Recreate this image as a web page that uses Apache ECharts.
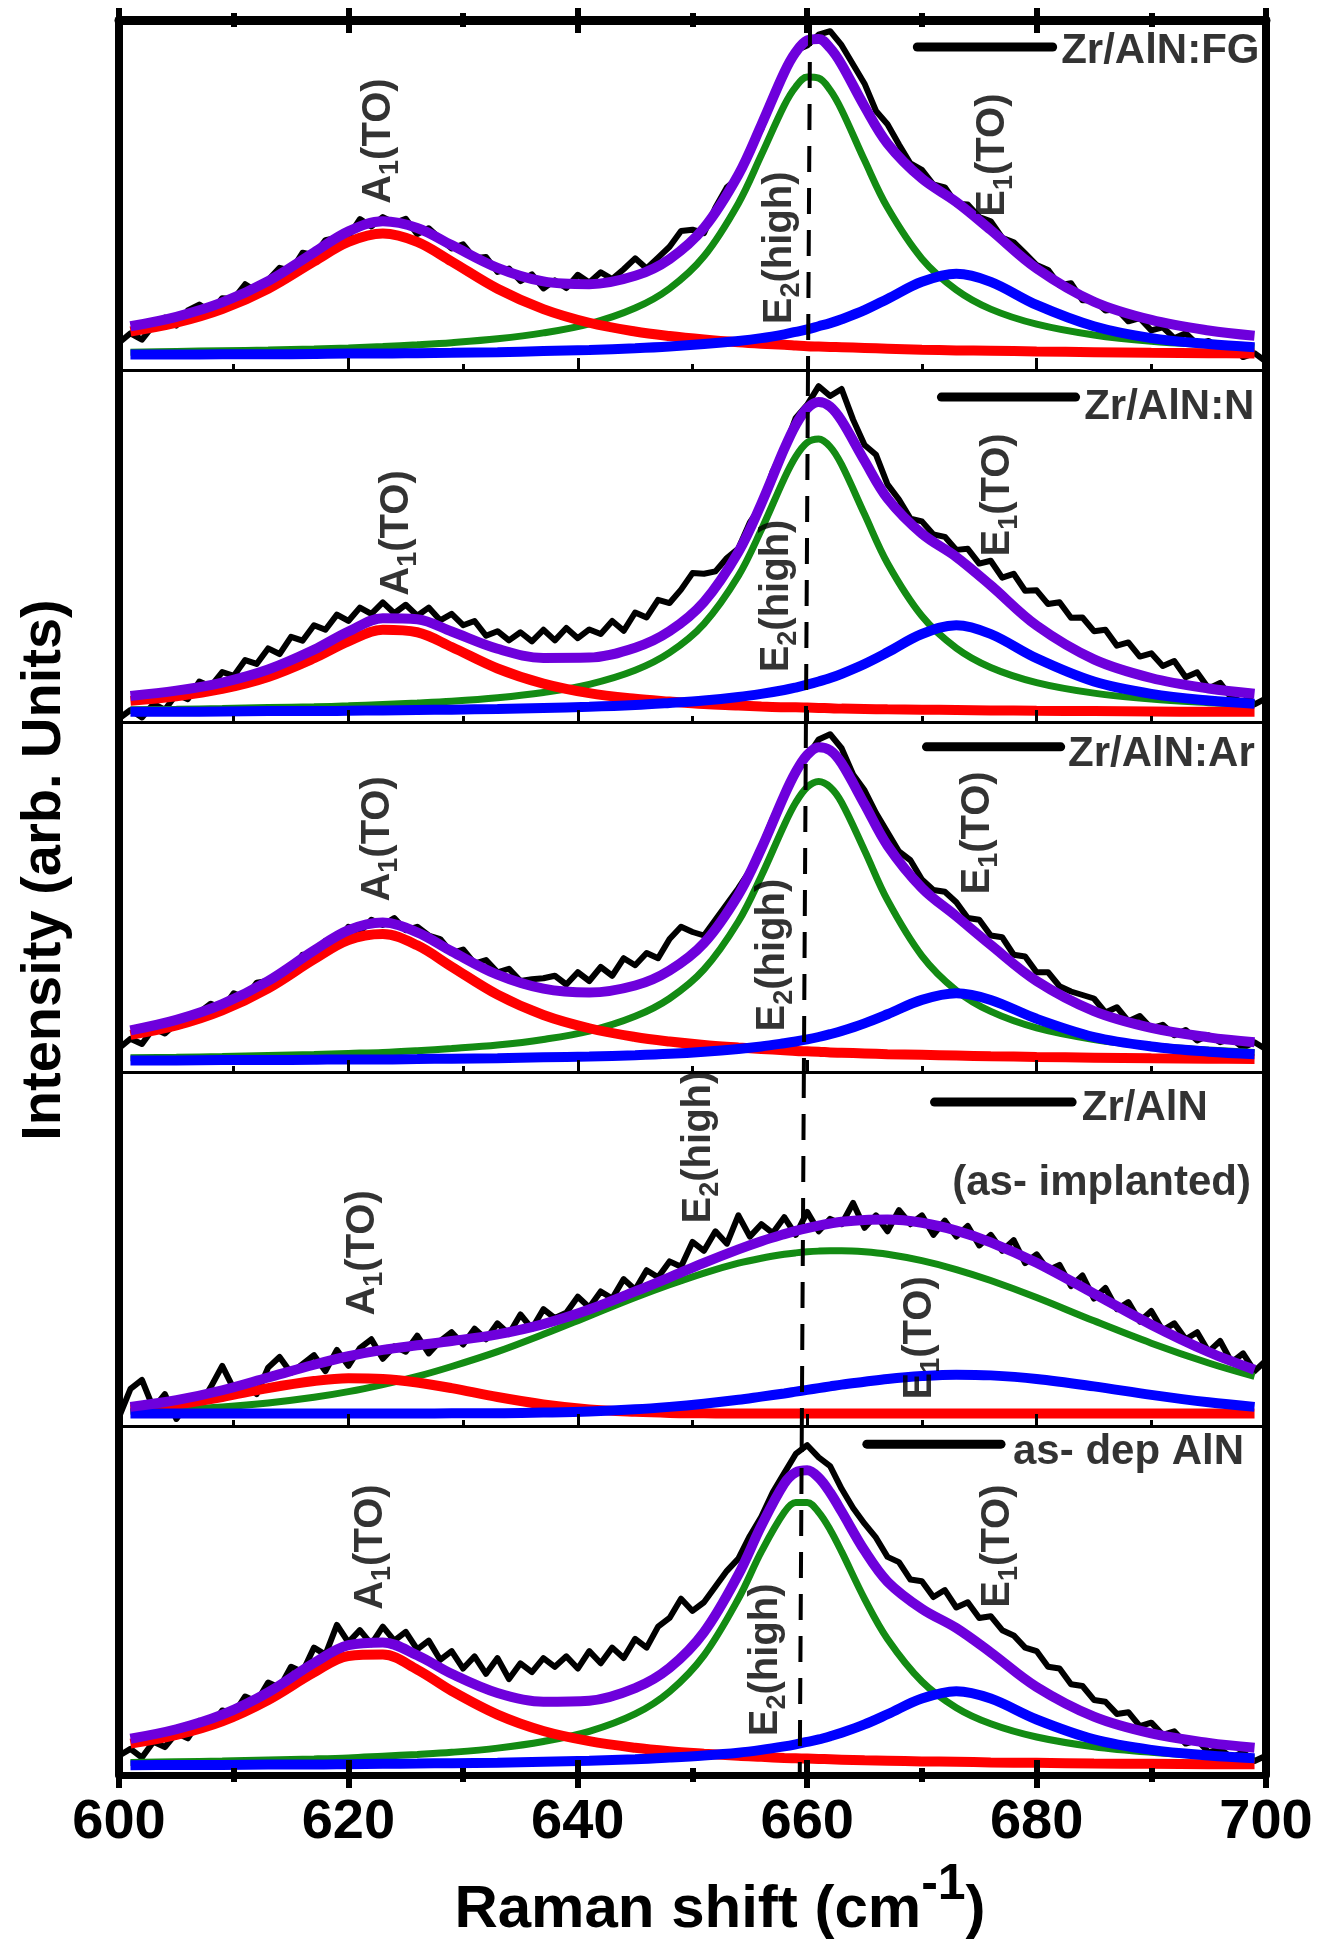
<!DOCTYPE html>
<html>
<head>
<meta charset="utf-8">
<title>Raman spectra - Zr/AlN</title>
<script src="https://cdn.jsdelivr.net/npm/echarts@6/dist/echarts.min.js"></script>
<style>
html, body { margin: 0; padding: 0; background: #fff; }
#main { width: 1320px; height: 1947px; }
</style>
</head>
<body>
<div id="main"></div>
<script>
//------------ data (intensity in % of panel height) ------------//
// sampling of the fitted curves, cm-1
var xFit = [601, 605, 609, 613, 617, 620, 623, 626, 629, 633, 637, 641, 645, 648, 651, 654, 656, 658, 659, 660,
	661, 662, 663, 665, 667, 670, 673, 676, 680, 685, 690, 695, 699];
// sampling of the measured spectra, cm-1
var xRaw = [600, 601, 602, 603, 604, 605, 606, 607, 608, 609, 610, 611, 612, 613, 614, 615, 616, 617, 618, 619,
	620, 621, 622, 623, 624, 625, 626, 627, 628, 629, 630, 631, 632, 633, 634, 635, 636, 637, 638, 639,
	640, 641, 642, 643, 644, 645, 646, 647, 648, 649, 650, 651, 652, 653, 654, 655, 656, 657, 658, 659,
	660, 661, 662, 663, 664, 665, 666, 667, 668, 669, 670, 671, 672, 673, 674, 675, 676, 677, 678, 679,
	680, 681, 682, 683, 684, 685, 686, 687, 688, 689, 690, 691, 692, 693, 694, 695, 696, 697, 698, 699, 700];
var xTicks = [600, 620, 640, 660, 680, 700];

var sampleNames = ['Zr/AlN:FG', 'Zr/AlN:N', 'Zr/AlN:Ar', 'Zr/AlN', 'as- dep AlN'];

// Zr/AlN:FG
var raw1 = [7.8, 10.5, 8.7, 12.8, 15.0, 12.7, 17.0, 18.7, 16.5, 20.5, 20.3, 24.5, 22.4, 25.7, 29.2, 28.3, 33.5, 32.8, 37.1, 37.8,
	38.1, 43.1, 41.0, 43.7, 42.0, 43.2, 38.8, 40.5, 37.5, 34.7, 35.9, 31.9, 32.3, 28.0, 29.0, 25.4, 27.3, 23.3, 25.6, 23.4,
	27.2, 25.0, 27.9, 26.0, 28.8, 31.9, 29.0, 32.1, 35.2, 39.7, 40.1, 39.1, 46.4, 52.2, 55.0, 63.4, 68.8, 78.5, 84.5, 91.3,
	92.7, 95.8, 96.8, 92.8, 87.3, 81.8, 74.0, 70.2, 64.4, 59.0, 57.2, 53.0, 52.2, 47.5, 47.3, 43.7, 42.5, 37.8, 36.5, 33.3,
	30.0, 28.6, 24.2, 24.8, 19.9, 20.0, 17.0, 17.4, 13.9, 14.8, 11.3, 12.2, 9.1, 10.5, 7.4, 8.3, 5.9, 7.0, 3.7, 4.8, 2.4];
var a1FG = [11.0, 13.5, 17.4, 23.2, 31.0, 36.6, 39.0, 36.6, 31.0, 23.2, 17.4, 13.5, 11.0, 9.7, 8.7, 7.9, 7.5, 7.2, 7.0, 6.8,
	6.7, 6.6, 6.5, 6.3, 6.1, 5.8, 5.6, 5.5, 5.3, 5.1, 4.9, 4.8, 4.7];
var e2FG = [5.1, 5.3, 5.5, 5.7, 6.0, 6.3, 6.7, 7.2, 7.8, 8.9, 10.6, 13.2, 17.7, 23.3, 32.5, 47.6, 61.4, 75.6, 80.9, 83.7,
	83.4, 80.0, 74.3, 59.9, 46.4, 31.8, 22.9, 17.4, 13.1, 10.0, 8.2, 7.2, 6.6];
var e1FG = [4.4, 4.4, 4.5, 4.5, 4.6, 4.7, 4.7, 4.8, 4.9, 5.1, 5.4, 5.7, 6.2, 6.7, 7.4, 8.3, 9.1, 10.2, 10.9, 11.6,
	12.5, 13.4, 14.5, 17.1, 20.3, 25.2, 27.5, 25.2, 18.6, 12.5, 9.1, 7.4, 6.5];
var sumFG = [12.5, 15.2, 19.3, 25.4, 33.6, 39.6, 42.5, 40.6, 35.7, 29.2, 25.3, 24.5, 26.9, 31.7, 40.6, 55.8, 70.0, 85.0, 90.8, 94.2,
	94.6, 92.0, 87.3, 75.3, 64.7, 54.7, 48.0, 40.0, 29.0, 19.5, 14.3, 11.3, 9.8];

// Zr/AlN:N
var raw2 = [1.0, 3.4, 1.3, 5.1, 3.5, 7.9, 6.5, 11.5, 10.1, 14.2, 13.1, 17.6, 16.5, 20.9, 19.3, 24.2, 23.1, 27.5, 26.2, 30.5,
	28.7, 32.5, 30.7, 34.0, 30.9, 33.3, 30.2, 32.5, 28.9, 30.7, 27.5, 28.7, 24.5, 25.8, 23.2, 25.5, 22.9, 26.2, 23.2, 26.7,
	23.8, 26.3, 25.0, 28.7, 25.9, 31.1, 29.7, 34.7, 33.8, 37.6, 42.3, 42.1, 42.8, 46.6, 49.3, 56.7, 61.5, 71.3, 77.6, 86.4,
	90.1, 95.4, 92.6, 94.6, 85.9, 78.7, 75.9, 67.5, 63.2, 57.8, 57.0, 53.3, 52.6, 48.9, 49.2, 45.0, 45.8, 41.0, 42.1, 37.3,
	37.4, 33.5, 34.0, 29.6, 29.7, 25.8, 26.2, 21.7, 22.6, 18.6, 19.5, 15.9, 17.3, 12.7, 14.1, 9.5, 11.1, 6.8, 8.4, 5.0, 6.7];
var a1N = [6.0, 7.3, 9.4, 12.8, 18.1, 22.9, 26.2, 25.5, 21.3, 15.2, 10.9, 8.2, 6.6, 5.8, 5.1, 4.7, 4.4, 4.2, 4.2, 4.1,
	4.0, 3.9, 3.8, 3.7, 3.6, 3.5, 3.4, 3.3, 3.2, 3.1, 3.0, 2.9, 2.9];
var e2N = [3.5, 3.6, 3.8, 4.1, 4.3, 4.6, 5.0, 5.4, 5.9, 6.9, 8.4, 10.7, 14.7, 19.7, 27.9, 41.5, 54.6, 69.2, 75.4, 79.4,
	80.4, 78.2, 73.1, 59.0, 45.1, 30.1, 21.0, 15.5, 11.2, 8.2, 6.5, 5.5, 4.9];
var e1N = [2.9, 2.9, 3.0, 3.1, 3.1, 3.2, 3.3, 3.4, 3.5, 3.7, 4.0, 4.3, 4.8, 5.4, 6.1, 7.1, 8.0, 9.1, 9.8, 10.6,
	11.5, 12.5, 13.7, 16.5, 19.8, 25.0, 27.5, 25.0, 18.1, 11.5, 8.0, 6.1, 5.2];
var sumN = [7.4, 8.9, 11.2, 14.9, 20.5, 25.7, 29.5, 29.2, 25.7, 20.8, 18.2, 18.3, 21.1, 25.8, 34.1, 48.3, 62.0, 77.6, 84.4, 89.1,
	90.9, 89.6, 85.6, 74.2, 63.5, 53.5, 46.9, 38.8, 27.4, 17.8, 12.5, 9.5, 8.0];

// Zr/AlN:Ar
var raw3 = [6.8, 9.5, 8.0, 12.5, 11.0, 14.0, 15.8, 17.0, 19.5, 18.0, 22.5, 21.0, 25.5, 26.0, 27.8, 28.5, 33.5, 33.0, 37.5, 36.8,
	41.5, 40.0, 43.5, 42.0, 44.0, 40.5, 41.5, 39.0, 38.0, 34.0, 35.0, 31.0, 32.0, 28.5, 29.5, 26.0, 26.5, 26.8, 27.5, 25.0,
	28.5, 26.0, 30.0, 27.5, 32.5, 30.5, 34.0, 32.5, 38.0, 41.5, 40.0, 39.0, 43.5, 48.0, 52.5, 57.5, 64.5, 72.5, 79.0, 86.5,
	90.0, 95.0, 96.5, 92.5, 85.0, 80.5, 74.0, 68.5, 63.0, 60.5, 55.0, 52.0, 51.5, 48.5, 44.0, 43.5, 39.0, 38.5, 33.5, 33.0,
	28.5, 28.5, 24.5, 23.0, 22.0, 21.0, 17.0, 18.5, 14.5, 16.0, 12.5, 13.5, 10.5, 12.0, 9.0, 10.5, 8.5, 9.5, 7.0, 8.5, 6.5];
var a1Ar = [10.6, 13.3, 17.6, 23.9, 32.2, 37.7, 39.4, 36.2, 30.1, 22.1, 16.3, 12.5, 10.0, 8.7, 7.7, 7.0, 6.6, 6.2, 6.0, 5.9,
	5.8, 5.6, 5.5, 5.3, 5.1, 4.9, 4.7, 4.5, 4.3, 4.1, 3.9, 3.8, 3.7];
var e2Ar = [4.1, 4.2, 4.4, 4.7, 5.0, 5.3, 5.6, 6.1, 6.7, 7.7, 9.3, 11.7, 15.9, 21.0, 29.3, 43.0, 56.0, 70.6, 77.0, 81.4,
	83.0, 81.4, 77.0, 63.3, 49.1, 33.2, 23.3, 17.3, 12.6, 9.3, 7.4, 6.3, 5.6];
var e1Ar = [3.3, 3.3, 3.4, 3.4, 3.5, 3.6, 3.6, 3.7, 3.8, 3.9, 4.2, 4.4, 4.8, 5.2, 5.8, 6.6, 7.3, 8.2, 8.7, 9.3,
	10.0, 10.8, 11.7, 13.9, 16.5, 20.6, 22.5, 20.6, 15.2, 10.0, 7.3, 5.8, 5.1];
var sumAr = [11.9, 14.9, 19.4, 26.0, 34.7, 40.5, 42.7, 39.9, 34.5, 27.8, 23.8, 22.7, 24.7, 29.0, 36.8, 50.6, 63.8, 79.0, 85.7, 90.6,
	92.8, 91.9, 88.2, 76.5, 64.7, 52.6, 44.5, 36.3, 26.0, 17.4, 12.6, 9.9, 8.5];

// Zr/AlN (as- implanted)
var raw4 = [2.5, 10.5, 13.0, 5.0, 9.0, 2.0, 6.5, 5.5, 11.0, 17.0, 10.5, 12.0, 9.0, 16.5, 19.5, 15.0, 17.5, 20.0, 15.5, 21.5,
	17.0, 22.0, 24.5, 19.0, 22.5, 21.0, 25.5, 20.5, 24.0, 26.5, 23.0, 27.5, 24.5, 29.0, 26.0, 31.5, 27.5, 33.0, 30.5, 32.0,
	36.5, 33.5, 38.0, 36.0, 41.5, 38.5, 44.0, 42.0, 46.5, 45.0, 52.0, 49.5, 55.0, 51.5, 59.5, 53.5, 57.0, 54.5, 59.0, 54.0,
	60.5, 55.0, 58.5, 57.0, 63.0, 56.0, 59.5, 55.0, 61.0, 57.0, 59.5, 54.0, 58.0, 53.5, 56.5, 51.0, 54.0, 49.5, 52.5, 46.0,
	48.5, 44.0, 45.5, 39.5, 42.5, 36.0, 39.0, 33.0, 35.0, 29.5, 32.5, 27.0, 29.0, 24.5, 26.5, 21.0, 24.0, 18.0, 20.5, 15.5, 18.5];
var a1Imp = [4.7, 6.1, 8.2, 10.7, 12.7, 13.5, 13.3, 12.3, 10.7, 8.2, 6.1, 4.7, 4.0, 3.7, 3.6, 3.5, 3.5, 3.5, 3.5, 3.5,
	3.5, 3.5, 3.5, 3.5, 3.5, 3.5, 3.5, 3.5, 3.5, 3.5, 3.5, 3.5, 3.5];
var e2Imp = [4.2, 4.7, 5.4, 6.5, 8.1, 9.7, 11.7, 14.0, 16.8, 21.0, 25.9, 31.1, 36.3, 39.9, 43.2, 46.0, 47.4, 48.5, 48.9, 49.2,
	49.4, 49.5, 49.5, 49.2, 48.5, 46.7, 44.2, 41.1, 36.3, 29.7, 23.4, 17.8, 14.0];
var e1Imp = [3.5, 3.5, 3.5, 3.5, 3.5, 3.5, 3.5, 3.5, 3.6, 3.6, 3.8, 4.1, 4.7, 5.4, 6.3, 7.4, 8.3, 9.2, 9.7, 10.2,
	10.7, 11.2, 11.7, 12.5, 13.3, 14.1, 14.5, 14.3, 13.3, 11.2, 8.8, 6.7, 5.4];
var sumImp = [5.4, 7.3, 10.1, 13.7, 17.3, 19.7, 21.5, 22.8, 24.0, 25.9, 28.8, 32.9, 38.0, 42.0, 46.1, 49.9, 52.2, 54.2, 55.1, 55.9,
	56.6, 57.2, 57.7, 58.2, 58.3, 57.4, 55.2, 51.9, 46.1, 37.4, 28.6, 20.9, 15.9];

// as- dep AlN
var raw5 = [5.5, 7.5, 5.0, 9.5, 8.0, 12.0, 10.5, 15.5, 14.0, 18.5, 17.5, 22.5, 21.0, 26.5, 25.0, 31.0, 29.5, 36.5, 34.5, 43.0,
	38.0, 41.5, 37.5, 42.5, 38.5, 41.0, 36.0, 38.5, 33.0, 35.5, 30.5, 34.0, 29.0, 33.5, 27.5, 32.0, 29.5, 33.5, 31.0, 34.0,
	30.5, 35.5, 32.0, 36.5, 33.5, 39.0, 36.5, 42.5, 45.0, 50.5, 47.0, 49.5, 54.0, 58.5, 62.0, 68.5, 74.0, 81.0, 86.5, 92.0,
	94.5, 91.0, 88.5, 82.0, 76.5, 72.0, 68.0, 62.5, 61.0, 56.0, 55.5, 51.0, 53.0, 48.0, 49.5, 45.0, 45.5, 41.5, 40.0, 36.5,
	35.5, 31.0, 30.5, 26.0, 25.5, 21.5, 21.0, 17.5, 18.0, 14.0, 15.0, 11.5, 12.5, 9.0, 10.0, 6.5, 7.5, 5.0, 6.5, 4.0, 5.5];
var a1Dep = [9.0, 11.5, 15.4, 21.5, 29.4, 34.1, 34.5, 30.2, 24.1, 17.3, 12.6, 9.7, 7.8, 6.8, 6.1, 5.5, 5.2, 4.9, 4.8, 4.7,
	4.6, 4.5, 4.4, 4.2, 4.1, 3.9, 3.8, 3.6, 3.5, 3.3, 3.2, 3.1, 3.1];
var e2Dep = [3.6, 3.8, 4.0, 4.3, 4.6, 4.9, 5.4, 5.9, 6.5, 7.7, 9.6, 12.5, 17.5, 23.9, 34.3, 50.5, 64.0, 75.3, 78.1, 78.1,
	75.3, 70.3, 64.0, 50.5, 39.0, 26.8, 19.3, 14.7, 10.9, 8.1, 6.5, 5.5, 4.9];
var e1Dep = [2.8, 2.9, 2.9, 3.0, 3.0, 3.1, 3.2, 3.3, 3.4, 3.5, 3.8, 4.1, 4.5, 5.0, 5.6, 6.4, 7.2, 8.2, 8.8, 9.5,
	10.2, 11.1, 12.1, 14.5, 17.4, 21.9, 24.0, 21.9, 15.9, 10.2, 7.2, 5.6, 4.8];
var sumDep = [10.4, 13.1, 17.3, 23.7, 32.1, 37.2, 38.0, 34.3, 29.0, 23.5, 21.0, 21.3, 24.9, 30.7, 40.9, 57.4, 71.4, 83.5, 86.7, 87.3,
	85.2, 80.9, 75.5, 64.3, 55.4, 47.6, 42.1, 35.1, 25.2, 16.7, 11.9, 9.2, 7.8];

var rawSets = [raw1, raw2, raw3, raw4, raw5];
var a1Sets = [a1FG, a1N, a1Ar, a1Imp, a1Dep];
var e2Sets = [e2FG, e2N, e2Ar, e2Imp, e2Dep];
var e1Sets = [e1FG, e1N, e1Ar, e1Imp, e1Dep];
var sumSets = [sumFG, sumN, sumAr, sumImp, sumDep];

//------------ annotation anchors (data coords of each panel) ------------//
var legendLine = [[669.6, 681.4, 92.3], [671.7, 683.4, 92.3], [670.4, 682.1, 92.9], [671.1, 683.1, 91.5], [665.2, 676.9, 94.8]];
var legendText = [[682.1, 91.1], [684.1, 89.5], [682.7, 90.6], [683.9, 89.8], [677.9, 92.3]];
var modeA1 = [[622.7, 65.4], [624.2, 53.7], [622.6, 66.6], [621.3, 48.9], [622.0, 65.3]];
var modeE2 = [[657.6, 34.9], [657.4, 35.8], [657.0, 33.4], [650.6, 78.8], [656.4, 33.0]];
var modeE1 = [[676.2, 61.4], [676.6, 64.5], [674.9, 68.3], [669.8, 24.9], [676.6, 65.6]];
// E2(high) marker line, x at top / bottom of each panel
var markerX = [[660.25, 660.07], [660.07, 659.89], [659.89, 659.71], [659.71, 659.53], [659.53, 659.35]];

//------------ layout ------------//
var panelTop = [20, 370, 722, 1072, 1426];
var panelHeight = [350, 352, 350, 354, 349];
var font = '"Liberation Sans", Arial, Helvetica, sans-serif';

function pairs(xs, ys) {
	var out = [];
	for (var k = 0; k < xs.length; k++) out.push([xs[k], ys[k]]);
	return out;
}

var modeRich = {
	m: { fontSize: 40, fontWeight: 'bold', fontFamily: font, color: '#000', lineHeight: 50 },
	s: { fontSize: 27, fontWeight: 'bold', fontFamily: font, color: '#000', lineHeight: 27, verticalAlign: 'bottom' }
};

var grids = [], xAxes = [], yAxes = [], series = [];

for (var i = 0; i < 5; i++) {
	var last = (i == 4);
	grids.push({ left: 119, right: 54, top: panelTop[i], height: panelHeight[i] });

	// bottom axis of each panel, ticks pointing in
	xAxes.push({
		gridIndex: i, type: 'value', position: 'bottom', min: 600, max: 700, interval: 20, z: 10,
		axisLine: { onZero: false, lineStyle: { color: '#000', width: last ? 7 : 3 } },
		axisTick: { inside: true, length: last ? 15 : 12, lineStyle: { color: '#000', width: last ? 6 : 3 } },
		minorTick: { show: true, splitNumber: 2, length: last ? 7 : 6, lineStyle: { color: '#000', width: last ? 6 : 3 } },
		axisLabel: {
			show: last, margin: 20, color: '#000', fontSize: 56, fontWeight: 'bold', fontFamily: font,
			showMinLabel: true, showMaxLabel: true,
			customValues: xTicks
		},
		splitLine: { show: false }
	});

	yAxes.push({
		gridIndex: i, type: 'value', min: 0, max: 100, position: 'left', z: 10,
		axisLine: { show: true, onZero: false, lineStyle: { color: '#000', width: 8 } },
		axisTick: { show: false }, axisLabel: { show: false }, splitLine: { show: false }
	});
	yAxes.push({
		gridIndex: i, type: 'value', min: 0, max: 100, position: 'right', z: 10,
		axisLine: { show: true, onZero: false, lineStyle: { color: '#000', width: 8 } },
		axisTick: { show: false }, axisLabel: { show: false }, splitLine: { show: false }
	});

	var yi = 2 * i;
	// measured spectrum
	series.push({
		type: 'line', xAxisIndex: i, yAxisIndex: yi, z: 2, symbol: 'none', silent: true,
		data: pairs(xRaw, rawSets[i]),
		lineStyle: { color: '#000', width: 6, join: 'round' }
	});
	// E2(high) component
	series.push({
		type: 'line', xAxisIndex: i, yAxisIndex: yi, z: 3, symbol: 'none', silent: true, smooth: 0.35,
		data: pairs(xFit, e2Sets[i]),
		lineStyle: { color: '#138b13', width: 7 }
	});
	// A1(TO) component
	series.push({
		type: 'line', xAxisIndex: i, yAxisIndex: yi, z: 4, symbol: 'none', silent: true, smooth: 0.35,
		data: pairs(xFit, a1Sets[i]),
		lineStyle: { color: '#ff0000', width: 10 }
	});
	// E1(TO) component
	series.push({
		type: 'line', xAxisIndex: i, yAxisIndex: yi, z: 5, symbol: 'none', silent: true, smooth: 0.35,
		data: pairs(xFit, e1Sets[i]),
		lineStyle: { color: '#0000ff', width: 10 }
	});
	// cumulative fit
	series.push({
		type: 'line', xAxisIndex: i, yAxisIndex: yi, z: 6, symbol: 'none', silent: true, smooth: 0.35,
		data: pairs(xFit, sumSets[i]),
		lineStyle: { color: '#6e00dc', width: 10 }
	});
	// dashed marker through E2(high)
	series.push({
		type: 'line', xAxisIndex: i, yAxisIndex: yi, z: 7, symbol: 'none', silent: true,
		data: [[markerX[i][0], 100], [markerX[i][1], 0]],
		lineStyle: { color: '#000', width: 4, type: [26, 16] }
	});
	// legend stroke
	series.push({
		type: 'line', xAxisIndex: i, yAxisIndex: yi, z: 8, symbol: 'none', silent: true,
		data: [[legendLine[i][0], legendLine[i][2]], [legendLine[i][1], legendLine[i][2]]],
		lineStyle: { color: '#000', width: 9, cap: 'round' }
	});

	var texts = [
		{ value: legendText[i], label: { position: 'right', distance: 0, rotate: 0, formatter: sampleNames[i],
			fontSize: 42, fontWeight: 'bold', fontFamily: font, color: '#000' } },
		{ value: modeA1[i], label: { formatter: '{m|A}{s|1}{m|(TO)}' } },
		{ value: modeE2[i], label: { formatter: '{m|E}{s|2}{m|(high)}' } },
		{ value: modeE1[i], label: { formatter: '{m|E}{s|1}{m|(TO)}' } }
	];
	if (i == 3) {
		texts.push({ value: [672.6, 68.6], label: { position: 'right', distance: 0, rotate: 0, formatter: '(as- implanted)',
			fontSize: 42, fontWeight: 'bold', fontFamily: font, color: '#000' } });
	}
	series.push({
		type: 'scatter', xAxisIndex: i, yAxisIndex: yi, z: 9, silent: true,
		symbolSize: 1, itemStyle: { color: 'rgba(0,0,0,0)' },
		label: { show: true, position: 'inside', rotate: 90, rich: modeRich },
		data: texts
	});
}

// outside half of the bottom ticks
xAxes.push({
	gridIndex: 4, type: 'value', position: 'bottom', min: 600, max: 700, interval: 20, z: 10,
	axisLine: { show: false, onZero: false },
	axisTick: { inside: false, length: 13, lineStyle: { color: '#000', width: 6 } },
	minorTick: { show: true, splitNumber: 2, length: 7, lineStyle: { color: '#000', width: 6 } },
	axisLabel: { show: false }, splitLine: { show: false }
});
// top frame of the first panel
xAxes.push({
	gridIndex: 0, type: 'value', position: 'top', min: 600, max: 700, interval: 20, z: 10,
	axisLine: { onZero: false, lineStyle: { color: '#000', width: 9 } },
	axisTick: { inside: true, length: 13, lineStyle: { color: '#000', width: 6 } },
	minorTick: { show: true, splitNumber: 2, length: 7, lineStyle: { color: '#000', width: 6 } },
	axisLabel: { show: false }, splitLine: { show: false }
});
xAxes.push({
	gridIndex: 0, type: 'value', position: 'top', min: 600, max: 700, interval: 20, z: 10,
	axisLine: { show: false, onZero: false },
	axisTick: { inside: false, length: 12, lineStyle: { color: '#000', width: 6 } },
	minorTick: { show: true, splitNumber: 2, length: 7, lineStyle: { color: '#000', width: 6 } },
	axisLabel: { show: false }, splitLine: { show: false }
});

var option = {
	backgroundColor: '#fff',
	animation: false,
	textStyle: { fontFamily: font },
	grid: grids,
	xAxis: xAxes,
	yAxis: yAxes,
	series: series,
	graphic: [
		{
			type: 'text', x: 45, y: 870, rotation: Math.PI / 2, silent: true,
			style: { text: 'Intensity (arb. Units)', fill: '#000', fontSize: 56, fontWeight: 'bold', fontFamily: font,
				align: 'center', verticalAlign: 'middle' }
		},
		{
			type: 'text', x: 720, y: 1910, silent: true,
			style: {
				text: '{a|Raman shift (cm}{b|-1}{a|)}', fill: '#000', align: 'center', verticalAlign: 'middle',
				rich: {
					a: { fontSize: 60, fontWeight: 'bold', fontFamily: font, lineHeight: 100, fill: '#000' },
					b: { fontSize: 50, fontWeight: 'bold', fontFamily: font, lineHeight: 50, verticalAlign: 'top', fill: '#000' }
				}
			}
		}
	]
};

var myChart = echarts.init(document.getElementById('main'), null, { renderer: 'canvas' });
myChart.setOption(option);
</script>
</body>
</html>
